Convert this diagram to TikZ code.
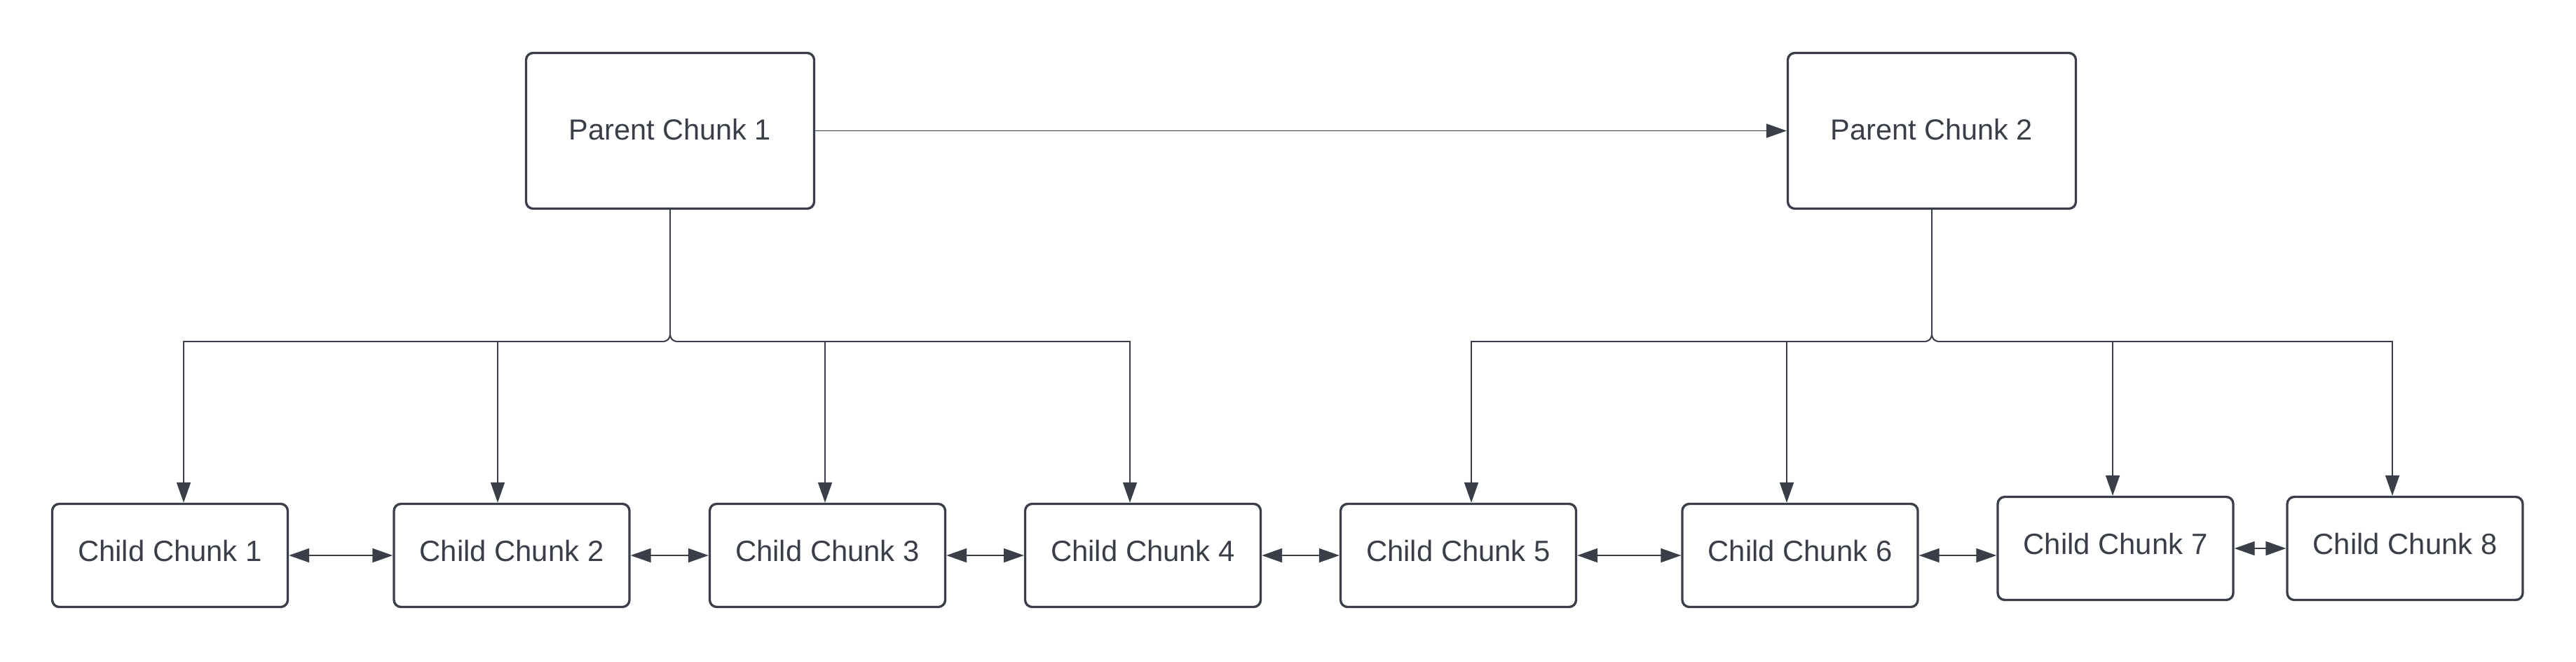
\documentclass[tikz,border=0pt]{standalone}
\usepackage{fontspec}
\setmainfont{Liberation Sans}
\usetikzlibrary{arrows.meta}
\definecolor{chunk-ink}{RGB}{58,62,72}
\tikzset{
  chunk-parent/.style={draw=chunk-ink, fill=white, rounded corners=1mm, line width=0.95pt,
    minimum width=4.11cm, minimum height=2.22cm, text=chunk-ink, text depth=0.5mm,
    font=\fontsize{11.8}{14}\selectfont},
  chunk-child/.style={chunk-parent, minimum width=3.36cm, minimum height=1.47cm,
    text depth=1.4mm, font=\fontsize{11.9}{14}\selectfont},
  chunk-link/.style={draw=chunk-ink, line width=0.5pt, -{Triangle[length=2.9mm, width=2mm]}},
  chunk-pair/.style={chunk-link, {Triangle[length=2.9mm, width=2mm]}-{Triangle[length=2.9mm, width=2mm]}}
}

\begin{document}
\begin{tikzpicture}[x=1cm, y=1cm]
  \useasboundingbox (0,0) rectangle (36.75,-9.43);

  % Parent chunks
  \node[chunk-parent] (p1) at (9.56,-1.865) {Parent Chunk 1};
  \node[chunk-parent] (p2) at (27.56,-1.865) {Parent Chunk 2};
  \draw[chunk-link] (p1.east) -- (p2.west);

  % Child chunks
  \node[chunk-child] (c1) at (2.425,-7.92) {Child Chunk 1};
  \node[chunk-child] (c2) at (7.30,-7.92) {Child Chunk 2};
  \node[chunk-child] (c3) at (11.805,-7.92) {Child Chunk 3};
  \node[chunk-child] (c4) at (16.305,-7.92) {Child Chunk 4};
  \node[chunk-child] (c5) at (20.805,-7.92) {Child Chunk 5};
  \node[chunk-child] (c6) at (25.68,-7.92) {Child Chunk 6};
  \node[chunk-child] (c7) at (30.18,-7.82) {Child Chunk 7};
  \node[chunk-child] (c8) at (34.31,-7.82) {Child Chunk 8};

  % Bus drop points
  \coordinate (d1) at (2.62,-4.87);
  \coordinate (d2) at (7.10,-4.87);
  \coordinate (d3) at (11.77,-4.87);
  \coordinate (d4) at (16.12,-4.87);
  \coordinate (d5) at (20.99,-4.87);
  \coordinate (d6) at (25.49,-4.87);
  \coordinate (d7) at (30.14,-4.87);
  \coordinate (d8) at (34.13,-4.87);

  % Parent 1 -> children 1-4
  \draw[chunk-link] (p1.south) [rounded corners=1mm] -- (p1.south |- d1) [sharp corners] -- (d1) -- (d1 |- c1.north);
  \draw[chunk-link] (p1.south) [rounded corners=1mm] -- (p1.south |- d2) [sharp corners] -- (d2) -- (d2 |- c2.north);
  \draw[chunk-link] (p1.south) [rounded corners=1mm] -- (p1.south |- d3) [sharp corners] -- (d3) -- (d3 |- c3.north);
  \draw[chunk-link] (p1.south) [rounded corners=1mm] -- (p1.south |- d4) [sharp corners] -- (d4) -- (d4 |- c4.north);

  % Parent 2 -> children 5-8
  \draw[chunk-link] (p2.south) [rounded corners=1mm] -- (p2.south |- d5) [sharp corners] -- (d5) -- (d5 |- c5.north);
  \draw[chunk-link] (p2.south) [rounded corners=1mm] -- (p2.south |- d6) [sharp corners] -- (d6) -- (d6 |- c6.north);
  \draw[chunk-link] (p2.south) [rounded corners=1mm] -- (p2.south |- d7) [sharp corners] -- (d7) -- (d7 |- c7.north);
  \draw[chunk-link] (p2.south) [rounded corners=1mm] -- (p2.south |- d8) [sharp corners] -- (d8) -- (d8 |- c8.north);

  % Sibling links
  \draw[chunk-pair] (c1.east) -- (c2.west);
  \draw[chunk-pair] (c2.east) -- (c3.west);
  \draw[chunk-pair] (c3.east) -- (c4.west);
  \draw[chunk-pair] (c4.east) -- (c5.west);
  \draw[chunk-pair] (c5.east) -- (c6.west);
  \draw[chunk-pair] (c6.east) -- (c6.east -| c7.west);
  \draw[chunk-pair] (c7.east) -- (c8.west);
\end{tikzpicture}
\end{document}
